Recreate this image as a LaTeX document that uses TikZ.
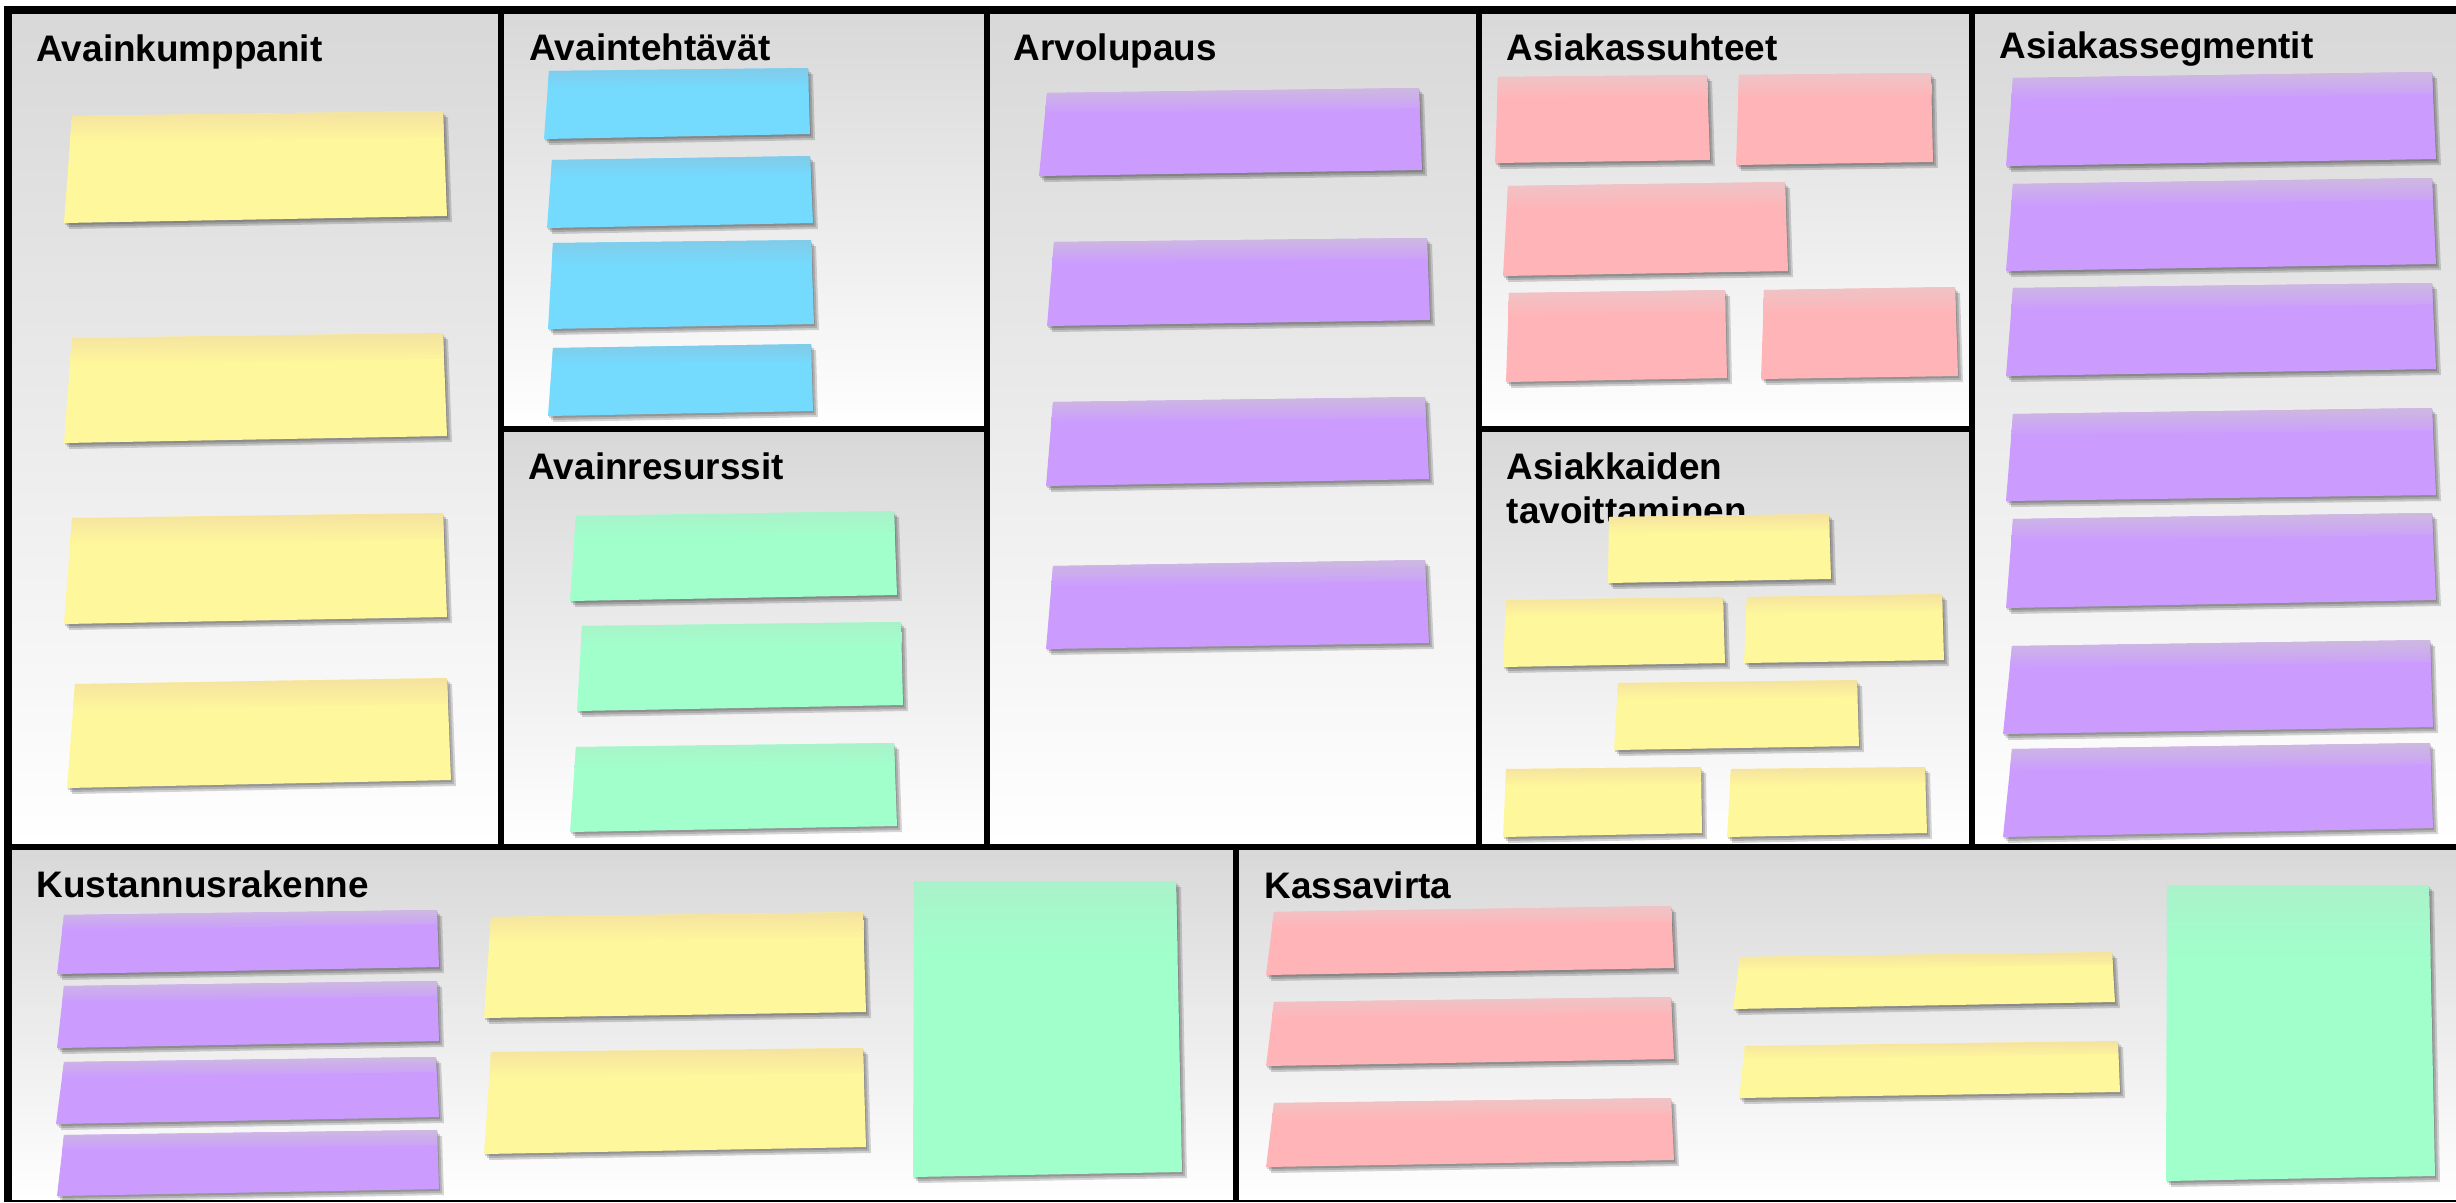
\documentclass[tikz,border=0pt]{standalone}
\usepackage{fontspec}
\setmainfont{Liberation Sans}
\usepackage{tikz}
\usetikzlibrary{calc}
\definecolor{ink}   {HTML}{000000}
\definecolor{panel} {HTML}{D8D8D8}
\definecolor{yel}   {HTML}{FFF79B}
\definecolor{yeltop}{HTML}{F4E2A0}
\definecolor{blu}   {HTML}{74DAFE}
\definecolor{blutop}{HTML}{82CBE8}
\definecolor{grn}   {HTML}{A0FFCB}
\definecolor{grntop}{HTML}{AAF2CA}
\definecolor{prp}   {HTML}{CB9CFE}
\definecolor{prptop}{HTML}{CDB9E0}
\definecolor{pnk}   {HTML}{FFB5B8}
\definecolor{pnktop}{HTML}{EEC4C6}

\tikzset{
  boxtitle/.style={font=\fontsize{10.5}{12.5}\selectfont\bfseries, text=ink,
                   inner sep=0pt, anchor=base west, align=left},
  panelbg/.style={top color=panel, bottom color=white},
  frame/.style={ink, line width=1.5pt},
}

% sticky note: colour, corners TL TR BR BL
\newcommand{\postit}[5]{%
  \foreach \s in {1,3,5}
    \fill[black, opacity=0.16, shift={(\s,\s+1)}] (#2) -- (#3) -- (#4) -- (#5) -- cycle;
  \fill[#1] (#2) -- (#3) -- (#4) -- (#5) -- cycle;
  \shade[top color=#1top, bottom color=#1]
    (#2) -- (#3) -- ($(#3)!0.25!(#4)$) -- ($(#2)!0.25!(#5)$) -- cycle;
}

\begin{document}
\begin{tikzpicture}[x=0.1mm, y=-0.1mm]
    \useasboundingbox (0,0) rectangle (2456,1202);
    \fill[white] (0,0) rectangle (2456,1202);

    % panels
    \shade[panelbg] (8,10)     rectangle (501,847);
    \shade[panelbg] (501,10)   rectangle (987,429);
    \shade[panelbg] (501,429)  rectangle (987,847);
    \shade[panelbg] (987,10)   rectangle (1479,847);
    \shade[panelbg] (1479,10)  rectangle (1972,429);
    \shade[panelbg] (1479,429) rectangle (1972,847);
    \shade[panelbg] (1972,10)  rectangle (2456,847);
    \shade[panelbg] (8,847)    rectangle (1236,1201);
    \shade[panelbg] (1236,847) rectangle (2456,1201);

    \draw[frame] (501,10) -- (501,847);
    \draw[frame] (987,10) -- (987,847);
    \draw[frame] (1479,10) -- (1479,847);
    \draw[frame] (1972,10) -- (1972,847);
    \draw[frame] (501,429) -- (987,429);
    \draw[frame] (1479,429) -- (1972,429);
    \draw[frame] (8,847) -- (2456,847);
    \draw[frame] (1236,847) -- (1236,1202);
    \draw[ink, line width=0.8pt] (8,1201) -- (2456,1201);
    \draw[ink, line width=2.3pt] (8,1202) -- (8,10) -- (2456,10);

    \node[boxtitle] (kp)  at (36,61)    {Avainkumppanit};
    \node[boxtitle] (at)  at (529,60)   {Avaintehtävät};
    \node[boxtitle] (ar)  at (528,479)  {Avainresurssit};
    \node[boxtitle] (ap)  at (1013,60)  {Arvolupaus};
    \node[boxtitle] (as)  at (1506,60)  {Asiakassuhteet};
    \node[boxtitle] (atv) at (1506,523) {Asiakkaiden\\tavoittaminen};
    \node[boxtitle] (sg)  at (1999,58)  {Asiakassegmentit};
    \node[boxtitle] (kr)  at (36,897)   {Kustannusrakenne};
    \node[boxtitle] (kv)  at (1264,898) {Kassavirta};

    % Avainkumppanit
    \postit{yel}{72,116}{443,111}{447,216}{64,223}
    \postit{yel}{72,338}{443,333}{447,436}{64,443}
    \postit{yel}{72,518}{443,513}{447,617}{64,624}
    \postit{yel}{75,684}{447,678}{451,780}{67,788}
    % Avaintehtavat
    \postit{blu}{549,71}{808,68}{810,134}{544,139}
    \postit{blu}{552,160}{810,156}{813,223}{547,228}
    \postit{blu}{553,243}{811,240}{814,324}{548,329}
    \postit{blu}{553,348}{811,344}{813,411}{548,416}
    % Avainresurssit
    \postit{grn}{576,516}{894,511}{897,595}{570,601}
    \postit{grn}{582,626}{901,622}{903,705}{577,711}
    \postit{grn}{576,747}{894,743}{897,826}{570,832}
    % Arvolupaus
    \postit{prp}{1047,93}{1419,88}{1422,170}{1039,176}
    \postit{prp}{1054,242}{1427,238}{1430,320}{1047,326}
    \postit{prp}{1053,402}{1425,397}{1429,479}{1046,486}
    \postit{prp}{1053,566}{1425,560}{1429,643}{1046,649}
    % Asiakassuhteet
    \postit{pnk}{1498,77}{1707,75}{1710,160}{1495,163}
    \postit{pnk}{1739,75}{1931,73}{1933,162}{1736,165}
    \postit{pnk}{1508,186}{1785,182}{1788,271}{1503,276}
    \postit{pnk}{1509,293}{1725,290}{1727,378}{1506,382}
    \postit{pnk}{1764,290}{1955,287}{1958,376}{1761,379}
    % Asiakkaiden tavoittaminen
    \postit{yel}{1609,517}{1829,514}{1831,579}{1608,583}
    \postit{yel}{1506,600}{1723,597}{1725,663}{1503,667}
    \postit{yel}{1747,597}{1942,594}{1944,660}{1744,663}
    \postit{yel}{1618,683}{1857,680}{1859,746}{1614,750}
    \postit{yel}{1506,769}{1701,767}{1702,833}{1503,837}
    \postit{yel}{1731,769}{1925,767}{1927,833}{1727,837}
    % Asiakassegmentit
    \postit{prp}{2013,78}{2432,72}{2436,159}{2006,166}
    \postit{prp}{2013,184}{2432,178}{2436,264}{2006,271}
    \postit{prp}{2013,288}{2432,283}{2436,369}{2006,376}
    \postit{prp}{2013,414}{2432,408}{2436,495}{2006,501}
    \postit{prp}{2013,519}{2432,513}{2436,600}{2006,608}
    \postit{prp}{2012,646}{2430,640}{2433,727}{2003,734}
    \postit{prp}{2012,749}{2430,743}{2433,828}{2003,837}
    % Kustannusrakenne
    \postit{prp}{64,915}{437,910}{439,967}{57,974}
    \postit{prp}{64,986}{437,981}{439,1041}{57,1048}
    \postit{prp}{64,1062}{436,1057}{439,1117}{56,1124}
    \postit{prp}{64,1135}{437,1130}{439,1189}{57,1196}
    \postit{yel}{491,917}{863,912}{866,1012}{484,1018}
    \postit{yel}{491,1052}{863,1048}{866,1147}{484,1154}
    \postit{grn}{914,881}{1176,881}{1182,1172}{913,1177}
    % Kassavirta
    \postit{pnk}{1274,912}{1671,906}{1674,968}{1266,975}
    \postit{pnk}{1274,1002}{1671,997}{1674,1059}{1266,1066}
    \postit{pnk}{1274,1103}{1671,1098}{1674,1160}{1266,1167}
    \postit{yel}{1740,957}{2112,952}{2115,1002}{1733,1009}
    \postit{yel}{1745,1046}{2118,1041}{2120,1092}{1739,1098}
    \postit{grn}{2167,885}{2429,885}{2435,1176}{2166,1181}
\end{tikzpicture}
\end{document}
